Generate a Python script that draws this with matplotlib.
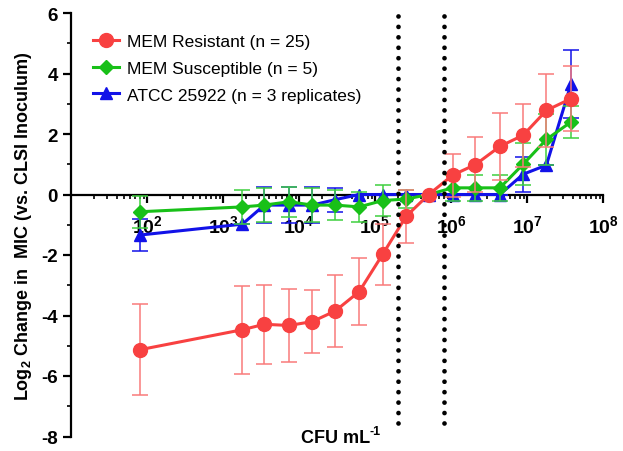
import numpy as np
import matplotlib
matplotlib.use("Agg")
import matplotlib.pyplot as plt
from matplotlib.ticker import LogLocator, NullFormatter, FixedLocator

plt.rcParams['font.family'] = ['Liberation Sans', 'DejaVu Sans']
plt.rcParams['mathtext.fontset'] = 'custom'
plt.rcParams['mathtext.rm'] = 'Liberation Sans'
plt.rcParams['mathtext.bf'] = 'Liberation Sans:bold'
plt.rcParams['axes.unicode_minus'] = False

# inoculum (CFU/mL)
cfu = [8.1e1, 1.8e3, 3.5e3, 7.4e3, 1.5e4, 3.0e4, 6.2e4, 1.26e5,
       2.57e5, 5.1e5, 1.05e6, 2.1e6, 4.4e6, 8.9e6, 1.8e7, 3.8e7]

res_y = [-5.13, -4.47, -4.29, -4.33, -4.20, -3.85, -3.21, -1.98,
         -0.72, 0.0, 0.64, 0.99, 1.59, 1.96, 2.78, 3.17]
res_err = [1.5, 1.45, 1.3, 1.2, 1.03, 1.18, 1.12, 1.0,
           0.88, 0.0, 0.71, 0.91, 1.11, 1.04, 1.21, 1.07]

sus_y = [-0.57, -0.41, -0.35, -0.24, -0.35, -0.35, -0.41, -0.20,
         -0.15, 0.0, 0.22, 0.22, 0.22, 1.0, 1.82, 2.4]
sus_err = [0.53, 0.55, 0.55, 0.5, 0.55, 0.5, 0.5, 0.5,
           0.3, 0.0, 0.44, 0.44, 0.44, 0.7, 0.85, 0.53]

atcc_y = [-1.34, -0.98, -0.35, -0.35, -0.35, -0.17, 0.0, 0.0,
          0.0, 0.0, 0.0, 0.0, 0.0, 0.67, 0.97, 3.66]
atcc_err = [0.53, 0.0, 0.6, 0.6, 0.6, 0.4, 0.0, 0.0,
            0.0, 0.0, 0.0, 0.0, 0.0, 0.58, 0.0, 1.13]

labels = ["MEM Resistant (n = 25)", "MEM Susceptible (n = 5)",
          "ATCC 25922 (n = 3 replicates)"]
ranges = [2e5, 8e5]   # dotted lines

fig = plt.figure(figsize=(6.23, 4.52), dpi=100)
ax = fig.add_axes([71/623, 1-437.5/452, (603-71)/623, (437.5-14)/452])

ax.set_xscale('log')

h1 = ax.errorbar(cfu, res_y, yerr=res_err, color='#f84141', marker='o', ms=10,
                 lw=2.2, ecolor='#f97a7a', elinewidth=1.1, capsize=6, capthick=1.1,
                 zorder=6, label=labels[0])
h2 = ax.errorbar(cfu, sus_y, yerr=sus_err, color='#18c018', marker='D', ms=7.5,
                 lw=2.2, ecolor='#3fcf3f', elinewidth=1.1, capsize=6, capthick=1.1,
                 zorder=5, label=labels[1])
h3 = ax.errorbar(cfu, atcc_y, yerr=atcc_err, color='#1212e8', marker='^', ms=8,
                 lw=2.2, ecolor='#1212e8', elinewidth=1.1, capsize=6, capthick=1.1,
                 zorder=4, label=labels[2])

for xv in ranges:
    ax.plot([xv, xv], [-7.55, 6.13], color='black', lw=3.4,
            linestyle=(0, (0.01, 2.2)), dash_capstyle='round',
            clip_on=False, zorder=7)

ax.set_xlim(10, 1e8)
ax.set_ylim(-8, 6)

ax.spines['top'].set_visible(False)
ax.spines['right'].set_visible(False)
ax.spines['bottom'].set_position(('data', 0))
ax.spines['bottom'].set_linewidth(1.6)
ax.spines['left'].set_linewidth(1.6)

ax.xaxis.set_major_locator(FixedLocator([1e2, 1e3, 1e4, 1e5, 1e6, 1e7, 1e8]))
ax.set_xticklabels([r'$\mathbf{10^{%d}}$' % k for k in range(2, 9)])
ax.xaxis.set_minor_locator(LogLocator(base=10, subs=np.arange(2, 10), numticks=20))
ax.xaxis.set_minor_formatter(NullFormatter())
ax.tick_params(axis='x', which='major', length=6, width=1.6, pad=8, labelsize=14)
ax.tick_params(axis='x', which='minor', length=3, width=1.2)

ax.set_yticks([-8, -6, -4, -2, 0, 2, 4, 6])
ax.set_yticks([-7, -5, -3, -1, 1, 3, 5], minor=True)
ax.tick_params(axis='y', which='major', length=6, width=1.6, labelsize=13.5)
ax.tick_params(axis='y', which='minor', length=3, width=1.2)
for t in ax.get_yticklabels():
    t.set_fontweight('bold')

ax.set_ylabel(r'Log$_{\mathbf{2}}$ Change in  MIC (vs. CLSI Inoculum)',
              fontsize=13, fontweight='bold', labelpad=5)
fig.text(336/623, 1-439/452, 'CFU mL', fontsize=13,
         fontweight='bold', ha='center', va='center')
fig.text(369/623, 1-432/452, '-1', fontsize=9,
         fontweight='bold', ha='left', va='center')

ax.legend(handles=[h1[0], h2[0], h3[0]], labels=labels, loc='upper left',
          bbox_to_anchor=(0.029, 0.968), frameon=False, fontsize=12.5,
          handlelength=1.45, handletextpad=0.5, labelspacing=0.68, borderaxespad=0)

fig.savefig('out.png', dpi=100)
